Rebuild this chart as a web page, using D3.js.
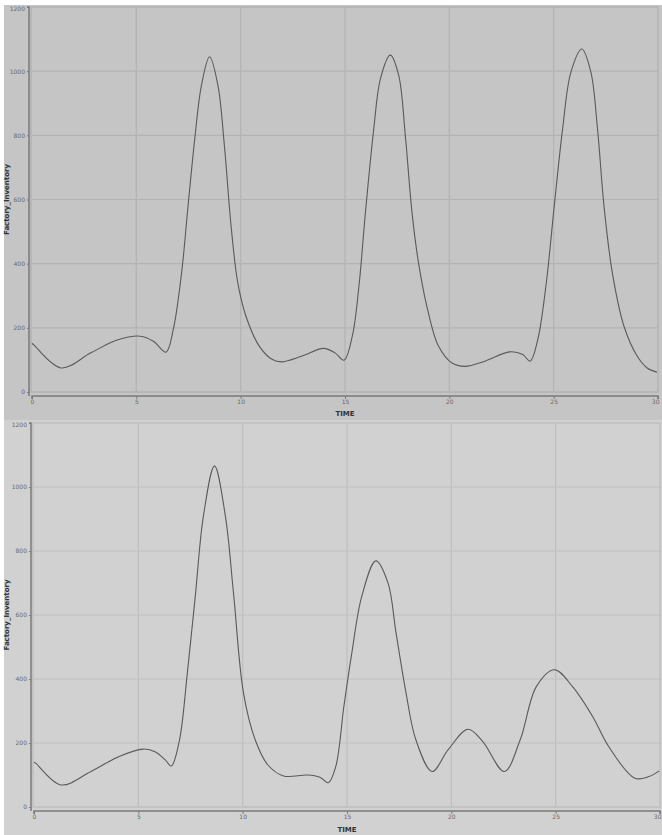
<!DOCTYPE html>
<html><head><meta charset="utf-8">
<script src="https://cdn.jsdelivr.net/npm/d3@7"></script>
<style>html,body{margin:0;padding:0;background:#fff;}svg{display:block;}</style>
</head><body>
<svg id="c" width="662" height="835"></svg>
<script>
// ---- data ----
const xTicks = [0, 5, 10, 15, 20, 25, 30];
const yTicks = [0, 200, 400, 600, 800, 1000, 1200];
const xLabel = "TIME";
const yLabel = "Factory_Inventory";

const topTime = [0, 0.1, 1.39, 2.82, 4.08, 5.19, 5.82, 6.42, 6.77, 7.17, 7.48, 7.8, 8.12, 8.51, 8.91, 9.22, 9.54, 9.86, 10.25, 10.89, 11.52, 11.99, 12.94, 13.97, 14.52, 14.95, 15.35, 15.67, 15.98, 16.38, 16.7, 17.17, 17.57, 17.89, 18.21, 18.52, 18.92, 19.48, 20.11, 20.75, 21.7, 22.89, 23.52, 23.87, 24.24, 24.63, 25.03, 25.43, 25.83, 26.35, 26.78, 27.1, 27.41, 27.81, 28.37, 29.0, 29.48, 29.95];
const topInv  = [152, 146, 75, 122, 162, 174, 158, 124, 195, 372, 581, 789, 956, 1045, 956, 768, 518, 341, 237, 143, 101, 94, 112, 136, 122, 99, 174, 331, 560, 821, 977, 1050, 988, 800, 560, 404, 268, 143, 91, 80, 96, 125, 117, 96, 164, 331, 581, 821, 998, 1069, 998, 821, 581, 372, 205, 112, 75, 62];

const botTime = [0, 0.08, 1.29, 2.73, 4.08, 5.23, 5.8, 6.29, 6.58, 6.96, 7.35, 7.73, 8.12, 8.65, 9.17, 9.56, 10.04, 10.6, 11.2, 11.96, 13.1, 13.7, 14.1, 14.46, 14.85, 15.23, 15.71, 16.38, 16.96, 17.35, 17.83, 18.3, 19.08, 19.85, 20.8, 21.5, 22.54, 23.3, 24.08, 24.94, 25.8, 26.77, 27.54, 28.79, 29.46, 29.96];
const botInv  = [140, 137, 69, 111, 158, 181, 173, 147, 128, 205, 419, 659, 910, 1066, 910, 669, 356, 210, 132, 97, 100, 93, 76, 126, 314, 481, 659, 769, 701, 544, 356, 210, 111, 179, 243, 205, 111, 210, 377, 429, 377, 283, 189, 90, 95, 113];

// ---- layout ----
const svg = d3.select("#c");
const panels = [
  {time: topTime, inv: topInv, bg: "#c5c5c5", grid: "#b3b3b3", y0: 5, y1: 420,
   px0: 32, px1: 658, py0: 392, py1: 7, axX: 29, axY: 396, titleY: 416, yLabelX: 9},
  {time: botTime, inv: botInv, bg: "#d1d1d1", grid: "#bfbfbf", y0: 420, y1: 835,
   px0: 34, px1: 660, py0: 807, py1: 423, axX: 31, axY: 811, titleY: 832, yLabelX: 9}
];

panels.forEach(p => {
  const g = svg.append("g");
  g.append("rect").attr("x", 4).attr("y", p.y0).attr("width", 658).attr("height", p.y1 - p.y0).attr("fill", p.bg);

  const x = d3.scaleLinear().domain([0, 30]).range([p.px0, p.px1]);
  const y = d3.scaleLinear().domain([0, 1200]).range([p.py0, p.py1]);

  // plot border
  g.append("rect").attr("x", p.px0 - 1).attr("y", p.py1).attr("width", p.px1 - p.px0 + 1).attr("height", p.py0 - p.py1)
    .attr("fill", "none").attr("stroke", p.grid).attr("stroke-width", 1.5);

  // grid
  g.selectAll(".gx").data(xTicks.slice(1, -1)).join("line")
    .attr("x1", d => x(d)).attr("x2", d => x(d)).attr("y1", p.py1).attr("y2", p.py0)
    .attr("stroke", p.grid).attr("stroke-width", 1.2);
  g.selectAll(".gy").data(yTicks.slice(1, -1)).join("line")
    .attr("x1", p.px0).attr("x2", p.px1).attr("y1", d => y(d)).attr("y2", d => y(d))
    .attr("stroke", p.grid).attr("stroke-width", 1.2);

  // axes
  const fmt = d3.format("d");
  const yAxis = d3.axisLeft(y).tickValues(yTicks).tickFormat(fmt).tickSize(2).tickPadding(2);
  const ya = g.append("g").attr("transform", `translate(${p.axX},0)`).call(yAxis);
  const xAxis = d3.axisBottom(x).tickValues(xTicks).tickFormat(fmt).tickSize(3).tickPadding(1);
  const xa = g.append("g").attr("transform", `translate(0,${p.axY})`).call(xAxis);
  [ya, xa].forEach(a => {
    a.select(".domain").attr("stroke", "#7a7a7a").attr("stroke-width", 1.5);
    a.selectAll(".tick line").attr("stroke", "#7a7a7a");
    a.selectAll(".tick text").attr("fill", "#6a6a6a").style("font-family", "DejaVu Sans, sans-serif").style("font-size", "6px");
  });
  xa.selectAll(".tick text").filter(d => d === 30).attr("text-anchor", "end").attr("dx", 1);
  ya.selectAll(".tick text").filter(d => d === 1200).attr("dy", "0.6em");
  ya.select(".domain").attr("d", `M-2,${p.py1}H0V${p.py0 + 4}`);
  xa.select(".domain").attr("d", `M${p.px0},3V0H${p.px1}V3`);

  // axis titles
  g.append("text").attr("x", (p.px0 + p.px1) / 2).attr("y", p.titleY).attr("text-anchor", "middle")
    .style("font-family", "DejaVu Sans, sans-serif").style("font-size", "7px").style("font-weight", "bold")
    .attr("fill", "#333").text(xLabel);
  g.append("text").attr("transform", `translate(${p.yLabelX},${(p.py0 + p.py1) / 2}) rotate(-90)`)
    .attr("text-anchor", "middle")
    .style("font-family", "DejaVu Sans, sans-serif").style("font-size", "7px").style("font-weight", "bold")
    .attr("fill", "#333").text(yLabel);

  // line
  const data = p.time.map((t, i) => [t, p.inv[i]]);
  const line = d3.line().x(d => x(d[0])).y(d => y(d[1])).curve(d3.curveCatmullRom.alpha(0.5));
  g.append("path").datum(data).attr("d", line).attr("fill", "none")
    .attr("stroke", "#5a5a5a").attr("stroke-width", 1.1);
});
</script>
</body></html>
